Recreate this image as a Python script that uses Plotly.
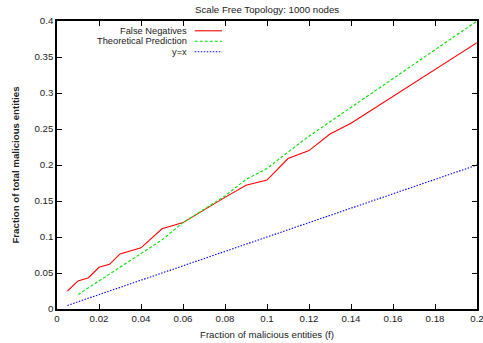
import plotly.graph_objects as go

fn_x = [0.005, 0.01, 0.015, 0.02, 0.025, 0.03, 0.04, 0.05, 0.06, 0.07, 0.08, 0.09, 0.10, 0.11, 0.12, 0.13, 0.14, 0.20]
fn_y = [0.025, 0.039, 0.0435, 0.058, 0.062, 0.0765, 0.085, 0.1115, 0.12, 0.138, 0.155, 0.172, 0.179, 0.209, 0.22, 0.243, 0.258, 0.37]

th_x = [0.01, 0.02, 0.03, 0.04, 0.05, 0.06, 0.07, 0.08, 0.09, 0.10, 0.11, 0.12, 0.13, 0.14, 0.15, 0.16, 0.17, 0.18, 0.19, 0.20]
th_y = [0.02, 0.039, 0.058, 0.077, 0.096, 0.12, 0.139, 0.157, 0.18, 0.195, 0.218, 0.24, 0.26, 0.28, 0.30, 0.32, 0.34, 0.36, 0.38, 0.40]

yx_x = [0.005, 0.20]
yx_y = [0.005, 0.20]

names = ["False Negatives", "Theoretical Prediction", "y=x"]
colors = ["#ff0000", "#00e000", "#0000ff"]
dashes = ["solid", "3px,2px", "1.5px,1.5px"]

x_ticks = [0, 0.02, 0.04, 0.06, 0.08, 0.1, 0.12, 0.14, 0.16, 0.18, 0.2]
x_labels = ["0", "0.02", "0.04", "0.06", "0.08", "0.1", "0.12", "0.14", "0.16", "0.18", "0.2"]
y_ticks = [0, 0.05, 0.1, 0.15, 0.2, 0.25, 0.3, 0.35, 0.4]
y_labels = ["0", "0.05", "0.1", "0.15", "0.2", "0.25", "0.3", "0.35", "0.4"]

font = "Liberation Sans, Arial, Helvetica, sans-serif"
fs = 9.7
lfs = 9.3

fig = go.Figure()
for xs, ys, n, c, d in zip([fn_x, th_x, yx_x], [fn_y, th_y, yx_y], names, colors, dashes):
    fig.add_trace(go.Scatter(x=xs, y=ys, mode="lines", name=n,
                             line=dict(color=c, width=1.1, dash=d), showlegend=False))

# legend drawn gnuplot-style: text right-aligned, sample line to the right
rows = [0.966, 0.9295, 0.893]
for n, c, d, ry in zip(names, colors, dashes, rows):
    fig.add_annotation(x=0.313, y=ry, xref="paper", yref="paper", text=n,
                       showarrow=False, xanchor="right", yanchor="middle", borderpad=0,
                       font=dict(family=font, size=lfs, color="#222"))
    fig.add_shape(type="line", xref="paper", yref="paper", x0=0.328, x1=0.393,
                  y0=ry, y1=ry, line=dict(color=c, width=1.1, dash=d))

axis_common = dict(showgrid=False, zeroline=False, showline=True, linecolor="black",
                   linewidth=1.5, mirror="ticks", ticks="inside", ticklen=5,
                   tickcolor="black", tickwidth=1, automargin=False,
                   ticklabeloverflow="allow",
                   tickfont=dict(family=font, size=fs, color="#222"))

fig.update_layout(
    width=483, height=343,
    margin=dict(l=57, r=6, t=21, b=34),
    paper_bgcolor="white", plot_bgcolor="white",
    title=dict(text="Scale Free Topology: 1000 nodes", x=0.553, xanchor="center",
               y=0.983, yanchor="top", font=dict(family=font, size=fs, color="#222")),
    xaxis=dict(range=[0, 0.2], tickvals=x_ticks, ticktext=x_labels,
               title=dict(text="Fraction of malicious entities (f)", standoff=8,
                          font=dict(family=font, size=fs, color="#222")),
               **axis_common),
    yaxis=dict(range=[0, 0.4], tickvals=y_ticks, ticktext=y_labels,
               title=dict(text="<b>Fraction of total malicious entities</b>", standoff=13,
                          font=dict(family=font, size=fs, color="#222")),
               **axis_common),
)

fig.write_html("out.html")
